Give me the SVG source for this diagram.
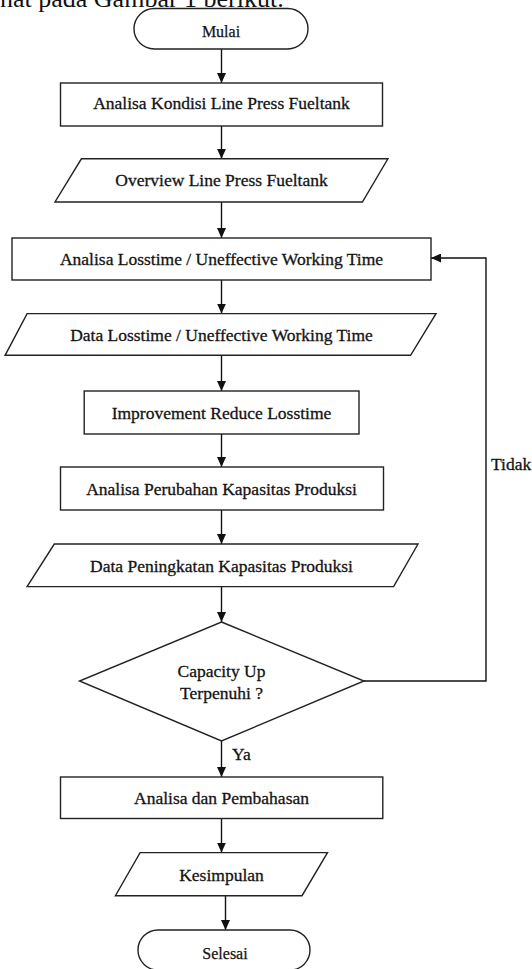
<svg xmlns="http://www.w3.org/2000/svg" width="532" height="969" viewBox="0 0 532 969">
<style>
.shape{fill:#fff;stroke:#222;stroke-width:1.4}
.lbl{font-family:"Liberation Serif","Times New Roman",serif;font-size:17.5px;fill:#141414;stroke:#141414;stroke-width:0.3;text-anchor:middle}
.term{font-family:"Liberation Serif","Times New Roman",serif;font-size:16px;fill:#141414;stroke:#141414;stroke-width:0.25;text-anchor:middle}
.conn{fill:none;stroke:#111;stroke-width:1.4}
.side{font-family:"Liberation Serif","Times New Roman",serif;font-size:17.5px;fill:#141414;stroke:#141414;stroke-width:0.3}
</style>
<defs>
<marker id="arr" markerUnits="userSpaceOnUse" markerWidth="10" markerHeight="9" refX="10" refY="4.5" orient="auto">
<path d="M0,0 L10,4.5 L0,9 z" fill="#111"/>
</marker>
</defs>
<rect width="532" height="969" fill="#fff"/>
<text x="0" y="6.5" font-family="Liberation Serif, Times New Roman, serif" font-size="26" fill="#111">nat pada Gambar 1 berikut.</text>

<g id="connectors">
<line class="conn" x1="221.5" y1="49" x2="221.5" y2="83" marker-end="url(#arr)"/>
<line class="conn" x1="221.5" y1="126" x2="221.5" y2="158.8" marker-end="url(#arr)"/>
<line class="conn" x1="221.5" y1="202" x2="221.5" y2="238" marker-end="url(#arr)"/>
<line class="conn" x1="221.5" y1="280" x2="221.5" y2="313.6" marker-end="url(#arr)"/>
<line class="conn" x1="221.5" y1="355.3" x2="221.5" y2="391" marker-end="url(#arr)"/>
<line class="conn" x1="221.5" y1="434" x2="221.5" y2="467" marker-end="url(#arr)"/>
<line class="conn" x1="221.5" y1="510" x2="221.5" y2="544" marker-end="url(#arr)"/>
<line class="conn" x1="221.5" y1="586.6" x2="221.5" y2="622" marker-end="url(#arr)"/>
<line class="conn" x1="221.5" y1="741" x2="221.5" y2="777" marker-end="url(#arr)"/>
<line class="conn" x1="221.5" y1="818.5" x2="221.5" y2="852.6" marker-end="url(#arr)"/>
<line class="conn" x1="225.5" y1="895.7" x2="225.5" y2="930" marker-end="url(#arr)"/>
<polyline class="conn" points="364,681 486,681 486,258 431,258" marker-end="url(#arr)"/>
<text class="side" x="491" y="470">Tidak</text>
<text class="side" x="232" y="760">Ya</text>
</g>

<g id="mulai">
<rect class="shape" x="134" y="8.5" width="174" height="40.5" rx="20.25"/>
<text class="term" x="221" y="36.6">Mulai</text>
</g>
<g id="analisa-kondisi">
<rect class="shape" x="60.5" y="83" width="322" height="43"/>
<text class="lbl" x="221.5" y="109">Analisa Kondisi Line Press Fueltank</text>
</g>
<g id="overview">
<polygon class="shape" points="81.4,158.8 387.9,158.8 362.4,202 55,202"/>
<text class="lbl" x="221.5" y="186">Overview Line Press Fueltank</text>
</g>
<g id="analisa-losstime">
<rect class="shape" x="12" y="238" width="419" height="42"/>
<text class="lbl" x="221.5" y="264.5">Analisa Losstime / Uneffective Working Time</text>
</g>
<g id="data-losstime">
<polygon class="shape" points="27.1,313.6 436,313.6 410.6,355.3 5.1,355.3"/>
<text class="lbl" x="221.5" y="341">Data Losstime / Uneffective Working Time</text>
</g>
<g id="improvement">
<rect class="shape" x="84.2" y="391" width="274.8" height="43"/>
<text class="lbl" x="221.5" y="419">Improvement Reduce Losstime</text>
</g>
<g id="analisa-perubahan">
<rect class="shape" x="60.5" y="467" width="323" height="43"/>
<text class="lbl" x="221.5" y="495">Analisa Perubahan Kapasitas Produksi</text>
</g>
<g id="data-peningkatan">
<polygon class="shape" points="54.3,544 418,544 393.6,586.6 27.1,586.6"/>
<text class="lbl" x="221.5" y="572">Data Peningkatan Kapasitas Produksi</text>
</g>
<g id="capacity">
<polygon class="shape" points="221.5,622 364,681 221.5,741 79.5,681"/>
<text class="lbl" x="221.5" y="676.5">Capacity Up</text>
<text class="lbl" x="221.5" y="698.5">Terpenuhi ?</text>
</g>
<g id="analisa-pembahasan">
<rect class="shape" x="60.5" y="777" width="322.3" height="41.5"/>
<text class="lbl" x="221.5" y="804">Analisa dan Pembahasan</text>
</g>
<g id="kesimpulan">
<polygon class="shape" points="140.1,852.6 327.5,852.6 302,895.7 115.4,895.7"/>
<text class="lbl" x="221.5" y="880.5">Kesimpulan</text>
</g>
<g id="selesai">
<rect class="shape" x="138" y="930" width="172" height="40" rx="20"/>
<text class="term" x="225" y="959.3">Selesai</text>
</g>
</svg>
